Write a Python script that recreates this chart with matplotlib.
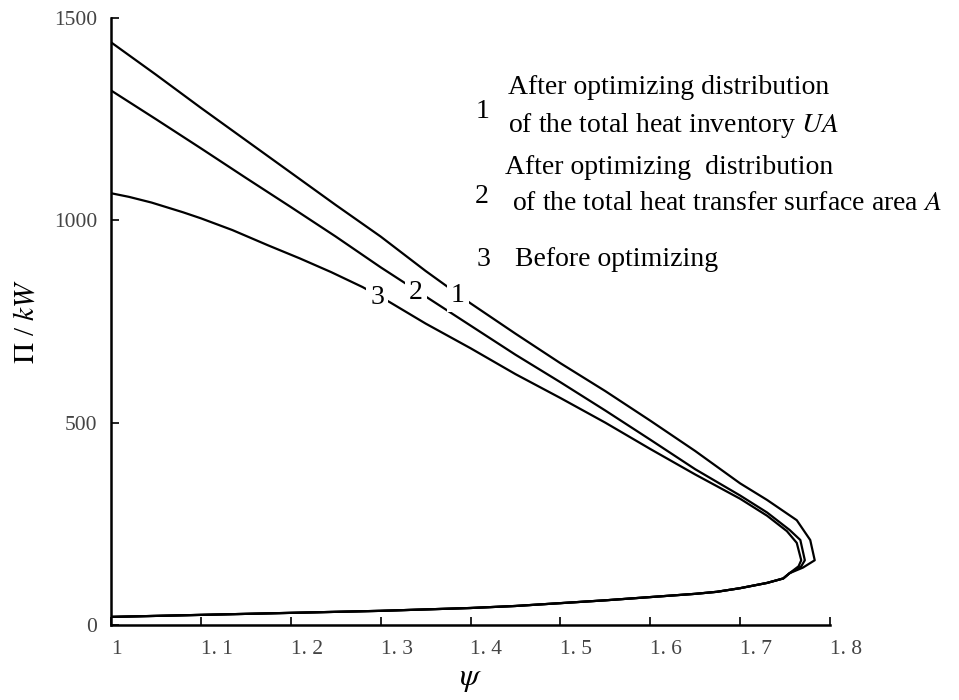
import matplotlib
matplotlib.use("Agg")
import matplotlib.pyplot as plt
import numpy as np

plt.rcParams["font.family"] = ["Liberation Serif", "DejaVu Serif"]
plt.rcParams["mathtext.fontset"] = "stix"

# upper branches (psi, Pi in kW)
psi_1 = [1.000, 1.05, 1.10, 1.15, 1.20, 1.25, 1.30, 1.35, 1.40, 1.45, 1.50, 1.55, 1.60, 1.65, 1.70, 1.730, 1.763, 1.778, 1.783, 1.770]
pi_1 = [1440, 1360, 1278, 1198, 1118, 1038, 960, 875, 795, 720, 647, 578, 505, 430, 350, 309, 259, 210, 160, 142]

psi_2 = [1.000, 1.05, 1.10, 1.15, 1.20, 1.25, 1.30, 1.35, 1.40, 1.45, 1.50, 1.55, 1.60, 1.65, 1.70, 1.73, 1.755, 1.767, 1.772, 1.768]
pi_2 = [1321, 1250, 1178, 1105, 1033, 960, 884, 812, 740, 668, 600, 530, 458, 385, 320, 278, 235, 210, 160, 145]

psi_3 = [1.000, 1.02, 1.045, 1.08, 1.10, 1.135, 1.175, 1.21, 1.245, 1.28, 1.31, 1.35, 1.40, 1.45, 1.50, 1.55, 1.60, 1.65, 1.70, 1.73, 1.752, 1.763, 1.768, 1.765]
pi_3 = [1067, 1058, 1044, 1020, 1005, 976, 938, 906, 872, 835, 798, 745, 684, 620, 561, 500, 435, 372, 312, 270, 232, 203, 160, 145]

# shared lower branch, from the nose back to psi = 1
psi_low = [1.755, 1.748, 1.73, 1.70, 1.674, 1.65, 1.60, 1.55, 1.50, 1.45, 1.40, 1.30, 1.20, 1.10, 1.00]
pi_low = [128, 115, 104, 91, 82, 77, 69, 61, 54, 47, 42, 35, 30, 25, 20]

xticks = [1.0, 1.1, 1.2, 1.3, 1.4, 1.5, 1.6, 1.7, 1.8]
xticklabels = ["1", "1. 1", "1. 2", "1. 3", "1. 4", "1. 5", "1. 6", "1. 7", "1. 8"]
yticks = [0, 500, 1000, 1500]

W, H = 959, 700
fig = plt.figure(figsize=(W / 100, H / 100), dpi=100)
ax = fig.add_axes([111 / W, 75 / H, 719 / W, 607 / H])

for px, py in [(psi_1, pi_1), (psi_2, pi_2), (psi_3, pi_3)]:
    ax.plot(np.r_[px, psi_low], np.r_[py, pi_low], color="black", lw=1.6, zorder=2)

# curve numbers sitting on the lines
for s, x, y in [("1", 1.386, 815), ("2", 1.339, 822), ("3", 1.296, 810)]:
    ax.text(x, y, s, fontsize=20, ha="center", va="center", zorder=3,
            bbox=dict(boxstyle="square,pad=0.15", fc="white", ec="none"))

ax.set_xlim(1.0, 1.8)
ax.set_ylim(0, 1500)
ax.spines["top"].set_visible(False)
ax.spines["right"].set_visible(False)
for sp in ["left", "bottom"]:
    ax.spines[sp].set_linewidth(1.8)

ax.set_xticks(xticks)
ax.set_xticklabels(xticklabels, ha="left")
ax.set_yticks(yticks)
ax.tick_params(direction="in", length=6, width=1.2, labelsize=15.5, labelcolor="#444444")
ax.tick_params(axis="x", pad=11)
ax.tick_params(axis="y", pad=10)

ax.set_xlabel(r"$\psi$", fontsize=23, labelpad=4)
ax.set_ylabel(r"$\Pi$ / $kW$", fontsize=21, labelpad=10)

# legend block written as text
fs = 20
fig.text(483 / W, 1 - 112 / H, "1", fontsize=20, ha="center", va="center")
fig.text(508 / W, 1 - 88 / H, "After optimizing distribution", fontsize=fs, va="center")
fig.text(508 / W, 1 - 126 / H, "of the total heat inventory $UA$", fontsize=fs, va="center")
fig.text(482 / W, 1 - 197 / H, "2", fontsize=20, ha="center", va="center")
fig.text(505 / W, 1 - 167 / H, "After optimizing  distribution", fontsize=fs, va="center")
fig.text(512 / W, 1 - 203 / H, "of the total heat transfer surface area $A$", fontsize=fs, va="center")
fig.text(483 / W, 1 - 260 / H, "3", fontsize=20, ha="center", va="center")
fig.text(515 / W, 1 - 260 / H, "Before optimizing", fontsize=fs, va="center")

fig.savefig("out.png", dpi=100)
